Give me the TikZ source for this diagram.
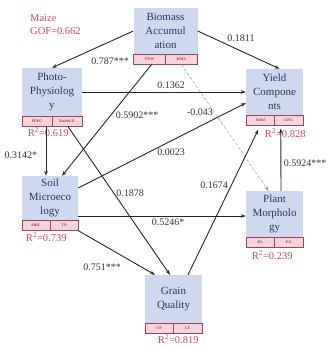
\documentclass[tikz,border=0pt]{standalone}
\usepackage{fontspec}
\setmainfont{Liberation Serif}
\usetikzlibrary{positioning,arrows.meta}
\definecolor{boxblue}{RGB}{206,216,239}
\definecolor{boxtext}{RGB}{45,55,95}
\definecolor{subpink}{RGB}{246,210,218}
\definecolor{subline}{RGB}{150,70,90}
\definecolor{rsqred}{RGB}{214,72,84}

\begin{document}
\begin{tikzpicture}[x=1pt, y=-1pt, >={Stealth[length=5pt,width=3.5pt]}]
        \tikzstyle{box}=[rectangle, fill=boxblue, text=boxtext, align=center, inner sep=1pt, minimum height=47pt, font=\fontsize{11}{14}\selectfont]
        \tikzstyle{sub}=[rectangle, draw=subline, fill=subpink, text=subline, minimum height=10pt, inner sep=0pt, font=\fontsize{4}{5}\selectfont\bfseries]
        \tikzstyle{rsq}=[text=rsqred, inner sep=0pt, font=\fontsize{10.5}{13}\selectfont]
        \tikzstyle{coef}=[inner sep=0pt, text=black!80, font=\fontsize{10}{12}\selectfont]
        \tikzstyle{link}=[->, line width=0.9pt, draw=black!85]
        \tikzstyle{neglink}=[->, densely dashed, thin, draw=black!45]
        \useasboundingbox (0,0) rectangle (329,348);
        \node [rsq, align=left, anchor=north west] (gof) at (30,14) {Maize\\GOF=0.662};
        % latent blocks
        \node [box, minimum width=64pt, minimum height=46pt] (bio) at (165.5,31) {Biomass\\Accumul\\ation};
        \node [sub, minimum width=32pt, anchor=north west] (bioa) at (bio.south west) {TDW};
        \node [sub, minimum width=32pt, anchor=north east] (biob) at (bio.south east) {DMA};
        \node [box, minimum width=60pt, minimum height=48pt] (photo) at (52,92) {Photo-\\Physiolog\\y};
        \node [sub, minimum width=30pt, anchor=north west] (photoa) at (photo.south west) {PEPC};
        \node [sub, minimum width=30pt, anchor=north east] (photob) at (photo.south east) {Radiol D};
        \node [rsq, below=1pt of photoa.south east, xshift=-4pt] (photor) {R\textsuperscript{2}=0.619};
        \node [box, minimum width=56pt, minimum height=44pt] (soil) at (50,198) {Soil\\Microeco\\logy};
        \node [sub, minimum width=28pt, anchor=north west] (soila) at (soil.south west) {MBC};
        \node [sub, minimum width=28pt, anchor=north east] (soilb) at (soil.south east) {TN};
        \node [rsq, below=2pt of soila.south east, xshift=-4pt] (soilr) {R\textsuperscript{2}=0.739};
        \node [box, minimum width=57pt, minimum height=48pt] (grain) at (173.5,299) {Grain\\Quality};
        \node [sub, minimum width=28.5pt, anchor=north west] (graina) at (grain.south west) {CP};
        \node [sub, minimum width=28.5pt, anchor=north east] (grainb) at (grain.south east) {CF};
        \node [rsq, below=1pt of graina.south east, xshift=4.5pt] (grainr) {R\textsuperscript{2}=0.819};
        \node [box, minimum width=57pt, minimum height=46pt] (yield) at (274.5,92) {Yield\\Compone\\nts};
        \node [sub, minimum width=28.5pt, anchor=north west] (yielda) at (yield.south west) {Yield};
        \node [sub, minimum width=28.5pt, anchor=north east] (yieldb) at (yield.south east) {GNC};
        \node [rsq, below=3pt of yielda.south east, xshift=10.5pt] (yieldr) {R\textsuperscript{2}=0.828};
        \node [box, minimum width=57pt, minimum height=46pt] (plant) at (274.5,214) {Plant\\Morpholo\\gy};
        \node [sub, minimum width=28.5pt, anchor=north west] (planta) at (plant.south west) {EL};
        \node [sub, minimum width=28.5pt, anchor=north east] (plantb) at (plant.south east) {EG};
        \node [rsq, below=3pt of planta.south east, xshift=-2.5pt] (plantr) {R\textsuperscript{2}=0.239};
        % paths
        \draw [link] (bio.west) -- (photo.north);
        \draw [link] (bio.east) -- ([xshift=5pt]yield.north);
        \draw [link] ([xshift=2pt]bioa.south) -- ([xshift=12pt]soil.north);
        \draw [neglink] (biob.south) -- ([xshift=-6pt]plant.north);
        \draw [link] (photo.east) -- (yield.west);
        \draw [link] ([xshift=9pt]photoa.south) -- ([xshift=-4pt]soil.north);
        \draw [link] ([xshift=1pt]photob.south) -- ([xshift=-3.5pt]grain.north);
        \draw [link] ([yshift=10pt]soil.east) -- ([yshift=-11pt]yield.west);
        \draw [link] ([yshift=-18pt]soil.east) -- ([yshift=-2pt]plant.west);
        \draw [link] (soilb.south east) -- ([xshift=-18.5pt]grain.north);
        \draw [link] ([xshift=14.5pt]grain.north) -- ([xshift=-2pt,yshift=-4pt]yielda.south);
        \draw [link] ([xshift=6.5pt]plant.north) -- ([xshift=-8pt,yshift=-3pt]yieldb.south);
        % coefficients
        \node [coef] (c1) at (110,61) {0.787***};
        \node [coef] (c2) at (241,38) {0.1811};
        \node [coef] (c3) at (137,115) {0.5902***};
        \node [coef] (c4) at (200,112) {-0.043};
        \node [coef] (c5) at (171,85) {0.1362};
        \node [coef] (c6) at (21,155) {0.3142*};
        \node [coef] (c7) at (130,193) {0.1878};
        \node [coef] (c8) at (171,152) {0.0023};
        \node [coef] (c9) at (168,222) {0.5246*};
        \node [coef] (c10) at (102,267) {0.751***};
        \node [coef] (c11) at (214,185) {0.1674};
        \node [coef] (c12) at (305,163) {0.5924***};
    \end{tikzpicture}
\end{document}
